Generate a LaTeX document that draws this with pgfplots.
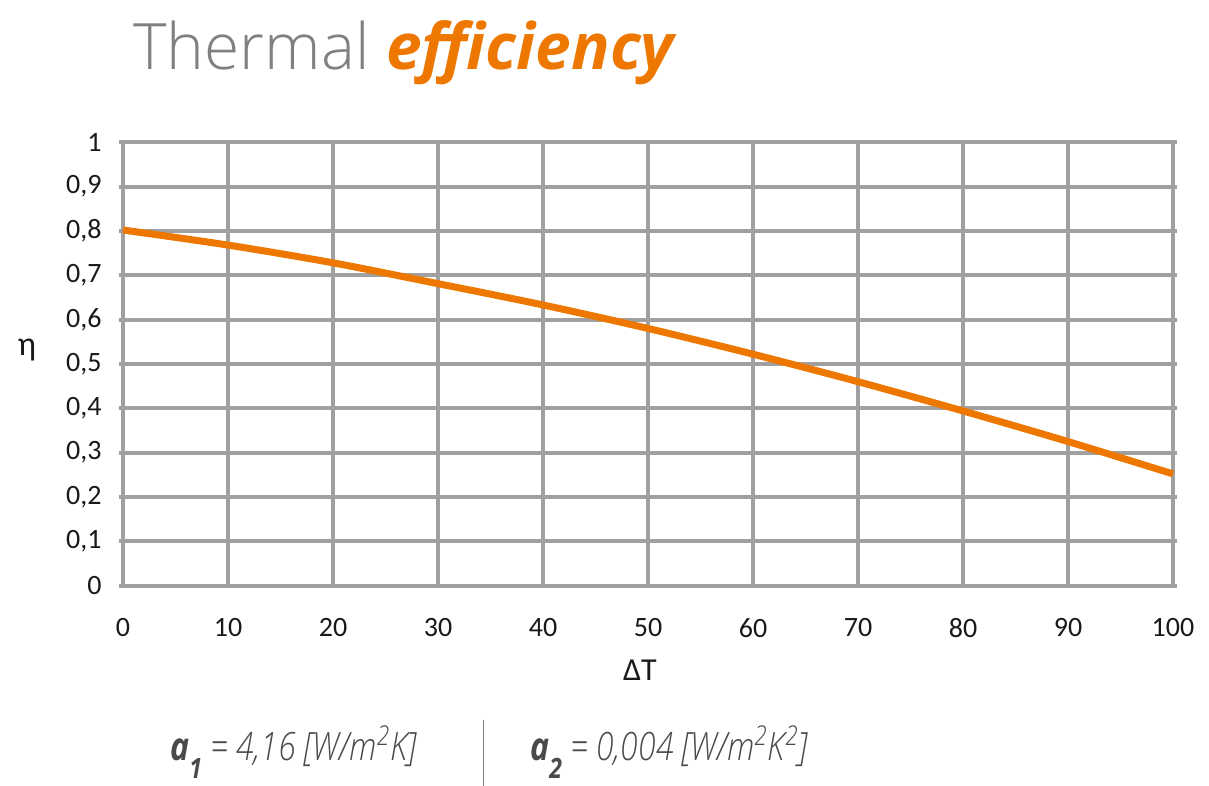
\documentclass[border=0pt]{standalone}
\usepackage{fontspec}
\setmainfont{Carlito}
\newfontfamily\oslight{Open Sans Light}
\newfontfamily\osans{Open Sans}
\newfontfamily\oscond[FakeStretch=0.82]{Open Sans Light}
\newfontfamily\oscondb[FakeStretch=0.82]{Open Sans}
\usepackage{pgfplots}
\pgfplotsset{compat=1.18}
\definecolor{orng}{HTML}{EE7700}
\definecolor{gridgray}{HTML}{A0A0A0}
\definecolor{titlegray}{HTML}{808080}
\definecolor{textgray}{HTML}{4A4A4A}
\begin{document}
\begin{tikzpicture}
\useasboundingbox (-61.5pt,-100.15pt) rectangle (543pt,292.85pt);
\begin{axis}[
  at={(0pt,0pt)}, anchor=south west,
  scale only axis, width=525pt, height=221.75pt,
  xmin=0, xmax=100, ymin=0, ymax=1,
  xtick={0,10,...,100},
  ytick={0,0.1,...,1},
  grid=major,
  major grid style={gridgray, line width=2pt},
  axis line style={gridgray, line width=2pt},
  xtick style={draw=none},
  ytick style={gridgray, line width=2pt},
  tick align=outside, major tick length=2pt,
  ytick pos=both,
  /pgf/number format/assume math mode=true,
  /pgf/number format/use comma,
  /pgf/number format/fixed,
  tick label style={font=\fontsize{14}{16}\selectfont, text=black!90},
  xticklabel style={anchor=north, inner sep=0pt, yshift=-14pt},
  yticklabel style={anchor=east, inner sep=0pt, xshift=-8.5pt},
  clip=false,
]
\addplot[orng, line width=3.5pt, smooth] coordinates {
(0,0.802) (10,0.768) (20,0.728) (30,0.681) (40,0.633) (50,0.580)
(60,0.522) (70,0.460) (80,0.394) (90,0.325) (100,0.252)
};
\end{axis}
\node[anchor=base west, inner sep=0pt, font=\fontsize{32}{36}\selectfont] at (5pt,257.85pt)
  {\oslight\color{titlegray}Thermal \osans\bfseries\itshape\color{orng}efficiency};
\node[font=\fontsize{17}{19}\selectfont, text=black!90] at (-48pt,117.85pt) {η};
\node[font=\fontsize{16}{18}\selectfont, text=black!90] at (258.5pt,-42.15pt) {ΔT};
\draw[gridgray!80!black, line width=0.5pt] (180pt,-67.15pt) -- (180pt,-100.15pt);
\node[anchor=base west, inner sep=0pt, text=textgray, font=\fontsize{19.5}{21}\selectfont] at (23.5pt,-87.5pt)
  {\itshape{\oscondb\bfseries a\raisebox{-0.45em}{\fontsize{14}{15}\selectfont 1}}\oscond\ = 4,16 [W/m\textsuperscript{2}K]};
\node[anchor=base west, inner sep=0pt, text=textgray, font=\fontsize{19.5}{21}\selectfont] at (203.5pt,-87.5pt)
  {\itshape{\oscondb\bfseries a\raisebox{-0.45em}{\fontsize{14}{15}\selectfont 2}}\oscond\ = 0,004 [W/m\textsuperscript{2}K\textsuperscript{2}]};
\end{tikzpicture}
\end{document}
